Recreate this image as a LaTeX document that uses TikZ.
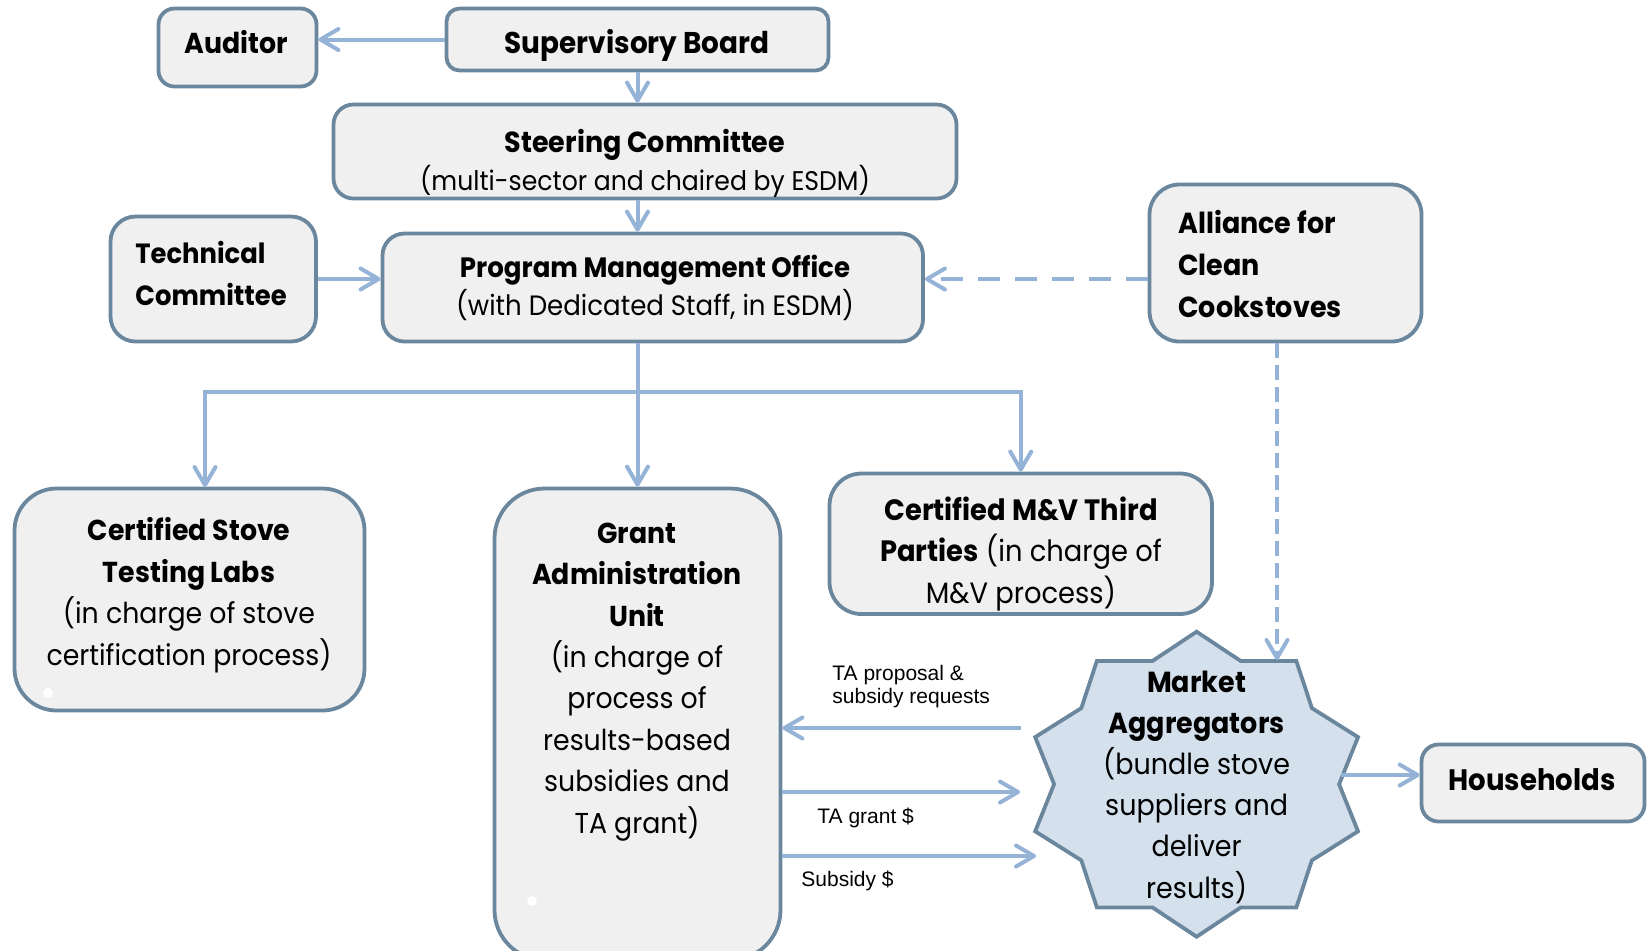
\documentclass[tikz,border=0pt]{standalone}
\usepackage{fontspec}
\setmainfont[FakeStretch=0.93]{Poppins}
\newfontfamily\lblfont{Liberation Sans}
\usetikzlibrary{arrows.meta,calc,fit}

\definecolor{edgeblue}{RGB}{107,135,158}
\definecolor{boxfill}{RGB}{240,240,240}
\definecolor{linkblue}{RGB}{149,179,215}
\definecolor{magfill}{RGB}{212,225,237}

\begin{document}
\begin{tikzpicture}[x=0.5pt,y=-0.5pt,
  box/.style={draw=edgeblue, fill=boxfill, line width=1.9pt, inner sep=0pt},
  txt/.style={align=center, inner sep=0pt, font=\fontsize{14.4}{20.75}\selectfont},
  lefttxt/.style={align=left, inner sep=0pt, font=\fontsize{14.5}{21}\selectfont\bfseries},
  arr/.style={draw=linkblue, line width=2pt,
    -{Straight Barb[length=9pt,width=10.5pt,round]}},
  darrh/.style={arr, dash pattern=on 11pt off 7.5pt},
  darrv/.style={arr, dash pattern=on 7.5pt off 3.5pt},
  small/.style={align=left, inner sep=0pt, font=\lblfont\fontsize{10.5}{11.5}\selectfont},
  magsty/.style={draw=edgeblue, fill=magfill, line width=1.9pt, line join=miter}
]
\useasboundingbox (0,0) rectangle (1649,950);
\clip (0,0) rectangle (1649,950);

% ---- boxes ----
\node[box, rounded corners=8pt,  fit={(158.5,8.5)(316.5,86.5)}]   (aud)   {};
\node[box, rounded corners=6.5pt,fit={(446.5,8.5)(828.5,70.5)}]   (sup)   {};
\node[box, rounded corners=10pt, fit={(333.5,104.5)(956.5,198.5)}] (steer) {};
\node[box, rounded corners=12.5pt,fit={(110.5,216.5)(316,341.5)}] (tech)  {};
\node[box, rounded corners=11pt, fit={(382.5,233.5)(923,341.5)}]  (pmo)   {};
\node[box, rounded corners=15pt, fit={(1149.5,184.5)(1421.5,341.5)}] (alli) {};
\node[box, rounded corners=21pt, fit={(14.5,488.5)(364.5,710.5)}] (lab)   {};
\node[box, rounded corners=25pt, fit={(494.5,488.5)(780.5,960)}]  (gau)   {};
\node[box, rounded corners=16pt, fit={(829.5,473.5)(1212,614)}]   (mv)    {};
\node[box, rounded corners=8.5pt,fit={(1421.5,744.5)(1644.5,821.5)}] (hh)  {};

% ---- market aggregators seal ----
\coordinate (mag) at (1196.6,784.2);
\begin{scope}[shift={(mag)}]
\draw[magsty] (0,-152.5) -- (44,-123.3) -- (99.7,-123.3) -- (115.3,-76.1)
  -- (161.4,-47.1) -- (142.5,0) -- (161.4,47.1) -- (115.3,76.1)
  -- (99.7,123.3) -- (44,123.3) -- (0,152.5) -- (-44,123.3)
  -- (-99.7,123.3) -- (-115.3,76.1) -- (-161.4,47.1) -- (-142.5,0)
  -- (-161.4,-47.1) -- (-115.3,-76.1) -- (-99.7,-123.3) -- (-44,-123.3) -- cycle;
\end{scope}

% small white marks
\fill[white] (48,693) circle (2.5pt);
\fill[white] (532,901) circle (2.5pt);

% ---- texts (multi-line nodes sit on their last baseline) ----
\node[txt, font=\fontsize{14.4}{19}\selectfont\bfseries, anchor=base] (audT) at (236,53) {Auditor};
\node[txt, font=\fontsize{15}{19}\selectfont\bfseries, anchor=base] (supT) at (637,53) {Supervisory Board};
\node[txt, font=\fontsize{13.5}{19}\selectfont, anchor=base] (steerT) at (645,190)
  {{\fontsize{14.5}{19}\selectfont\bfseries Steering Committee}\\(multi-sector and chaired by ESDM)};
\node[txt, font=\fontsize{14}{19}\selectfont, anchor=base] (pmoT) at (655,315)
  {\textbf{Program Management Office}\\(with Dedicated Staff, in ESDM)};
\node[lefttxt, font=\fontsize{13.9}{21}\selectfont\bfseries, anchor=base west] (techT) at (135,305) {Technical\\Committee};
\node[lefttxt, font=\fontsize{14.5}{20.8}\selectfont\bfseries, anchor=base west] (alliT) at (1178,317)
  {Alliance for\\Clean\\Cookstoves};
\node[txt, anchor=base] (labT) at (189,665)
  {\textbf{Certified Stove}\\\textbf{Testing Labs}\\(in charge of stove\\certification process)};
\node[txt, font=\fontsize{14.4}{20.7}\selectfont, anchor=base] (gauT) at (637,833)
  {\textbf{Grant}\\\textbf{Administration}\\\textbf{Unit}\\(in charge of\\process of\\results-based\\subsidies and\\TA grant)};
\node[txt, font=\fontsize{14.7}{20.75}\selectfont, anchor=base] (mvT) at (1021,603)
  {\textbf{Certified M\&V Third}\\\textbf{Parties} (in charge of\\M\&V process)};
\node[txt, font=\fontsize{14.5}{20.6}\selectfont, anchor=base] (magT) at (1196.6,898)
  {\textbf{Market}\\\textbf{Aggregators}\\(bundle stove\\suppliers and\\deliver\\results)};
\node[txt, font=\fontsize{14.8}{19}\selectfont\bfseries, anchor=base] (hhT) at (1532,790) {Households};

% ---- connector anchors ----
\coordinate (fork)  at (637,392);
\coordinate (labin) at (205,487);
\coordinate (magin) at (1277,660);
\coordinate (rq)    at (1021,728);
\coordinate (tag)   at (1020,792);
\coordinate (sbs)   at (1036,856);
\coordinate (magout) at (1341,775);

% ---- connectors ----
\draw[arr] (sup.west) -- (sup.west -| aud.east);
\draw[arr] (sup.south) -- (sup.south |- steer.north);
\draw[arr] (sup.south |- steer.south) -- (sup.south |- pmo.north);
\draw[arr] (tech.east) -- (tech.east -| pmo.west);
\draw[darrh] (alli.west |- tech.east) -- (pmo.east |- tech.east);
\draw[arr] (gau.north |- pmo.south) -- (gau.north);
\draw[arr, line join=miter] (fork) -| (labin);
\draw[arr, line join=miter] (fork) -| (mv.north);
\draw[darrv] (magin |- alli.south) -- (magin);
\draw[arr] (rq) -- (rq -| gau.east);
\draw[arr] (tag -| gau.east) -- (tag);
\draw[arr] (sbs -| gau.east) -- (sbs);
\draw[arr] (magout) -- (magout -| hh.west);

% ---- connector labels ----
\node[small, anchor=base west] (rqT) at (832,703) {TA proposal \&\\subsidy requests};
\node[small, anchor=base west] (tagT) at (817,823) {TA grant \$};
\node[small, anchor=base west] (sbsT) at (801,886) {Subsidy \$};
\end{tikzpicture}
\end{document}
